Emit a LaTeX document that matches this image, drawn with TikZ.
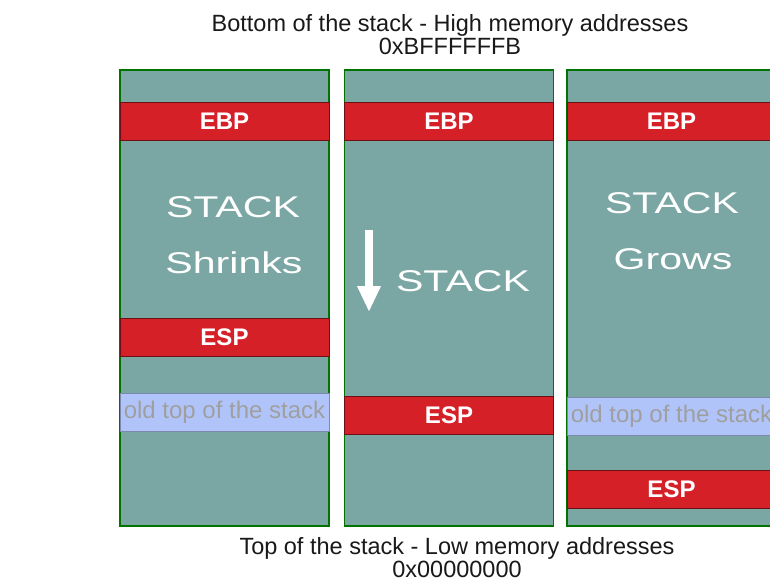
\documentclass[tikz,border=0pt]{standalone}
\usepackage{fontspec}
\setmainfont{Liberation Sans}
\usetikzlibrary{arrows.meta}

\definecolor{stackfill}{RGB}{122,166,164}
\definecolor{regred}{RGB}{214,32,40}
\definecolor{oldtop}{RGB}{176,196,250}

% wide lettering used for the stack labels
\newcommand\widetext[1]{\scalebox{1.37}[1]{#1}}

\begin{document}
\begin{tikzpicture}[x=1pt, y=-1pt,
    col/.style = {rectangle, draw=green!45!black, line width=1.2pt, fill=stackfill, minimum width=209pt, minimum height=456pt, inner sep=0pt},
    reg/.style = {rectangle, draw=regred!50!black, line width=0.8pt, fill=regred, minimum width=209pt, minimum height=38pt, inner sep=0pt, text=white, font=\fontsize{24}{28}\selectfont\bfseries},
    old/.style = {rectangle, draw=oldtop!70!black, line width=0.5pt, fill=oldtop, minimum width=209pt, minimum height=38pt, inner sep=0pt, text=gray!75, font=\fontsize{24}{28}\selectfont},
    big/.style = {text=white, font=\fontsize{30}{36}\selectfont},
    caption/.style = {align=center, text=black!90, font=\fontsize{23.5}{23}\selectfont}
]
    \useasboundingbox (0,0) rectangle (770,582);
    \clip (0,0) rectangle (770,582);

    \node[caption] (high) at (450,35) {Bottom of the stack - High memory addresses\\0xBFFFFFFB};
    \node[caption] (low) at (457,558) {Top of the stack - Low memory addresses\\0x00000000};

    % stack shrinking
    \node[col] (c1) at (224.5,298) {};
    \node[reg] (ebp1) at (224.5,121) {EBP};
    \node[big] (s1) at (233,207) {\widetext{STACK}};
    \node[big] (shr) at (234,263) {\widetext{Shrinks}};
    \node[reg] (esp1) at (224.5,337) {ESP};
    \node[old] (old1) at (224.5,412) {old top of the stack};

    % stack at rest
    \node[col] (c2) at (449,298) {};
    \node[reg] (ebp2) at (449,121) {EBP};
    \coordinate (a1) at (369,230);
    \coordinate (a2) at (369,312);
    \draw[white, line width=8pt, -{Triangle[width=22pt,length=26pt]}] (a1) -- (a2);
    \node[big] (s2) at (463,281) {\widetext{STACK}};
    \node[reg] (esp2) at (449,415) {ESP};

    % stack growing
    \node[col] (c3) at (671.5,298) {};
    \node[reg] (ebp3) at (671.5,121) {EBP};
    \node[big] (s3) at (672,203) {\widetext{STACK}};
    \node[big] (grw) at (673,259) {\widetext{Grows}};
    \node[old] (old3) at (671.5,416) {old top of the stack};
    \node[reg] (esp3) at (671.5,489) {ESP};
\end{tikzpicture}
\end{document}
